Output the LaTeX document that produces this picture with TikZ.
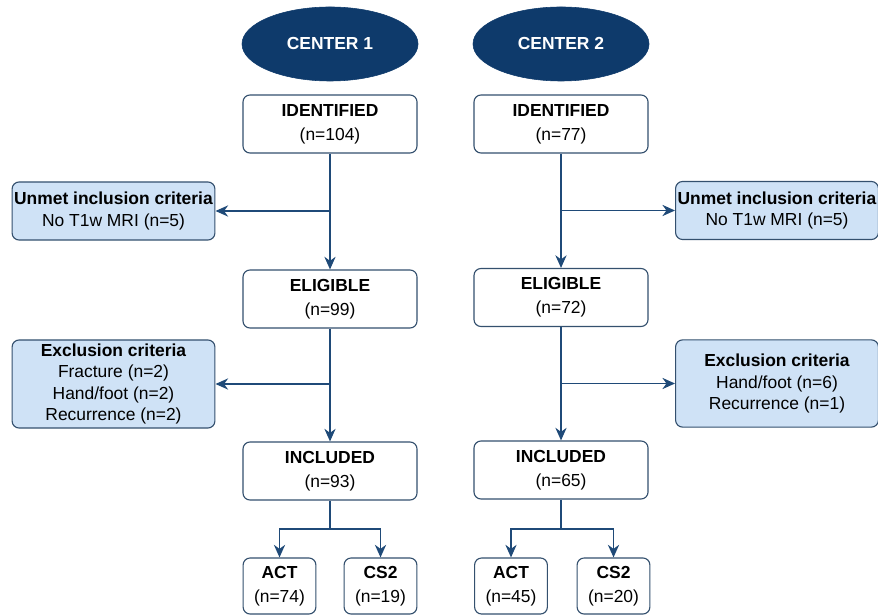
\documentclass[tikz,border=0pt]{standalone}
\usepackage{fontspec}
\setmainfont{Liberation Sans}
\usetikzlibrary{shapes.geometric,arrows.meta,positioning}

\definecolor{navy}{HTML}{0E3A6B}
\definecolor{linecol}{HTML}{1F4A78}
\definecolor{boxline}{HTML}{34506E}
\definecolor{paleblue}{HTML}{CFE2F6}

\tikzset{
	center/.style={ellipse, fill=navy, draw=navy, text=white,
		font=\fontsize{12.4}{15}\selectfont\bfseries,
		minimum width=4.4cm, minimum height=1.85cm, inner sep=0pt},
	stage/.style={rectangle, rounded corners=5pt, draw=boxline, line width=0.8pt, fill=white,
		minimum width=4.35cm, minimum height=1.45cm, align=center},
	crit/.style={rectangle, rounded corners=5pt, draw=boxline, line width=0.8pt, fill=paleblue,
		minimum width=5.07cm, minimum height=1.45cm, align=center, inner sep=1pt},
	arm/.style={rectangle, rounded corners=5pt, draw=boxline, line width=0.8pt, fill=white,
		minimum width=1.82cm, minimum height=1.4cm, align=center},
	arr/.style={draw=linecol, line width=1pt, -{Stealth[length=9pt,width=8pt]}},
	ln/.style={draw=linecol, line width=1pt}
}

\begin{document}
\begin{tikzpicture}[x=0.025cm, y=-0.025cm, font=\fontsize{12.4}{15}\selectfont]
	\useasboundingbox (0,0) rectangle (878,615);

	% center 1
	\node[center] (c1) at (330,44) {CENTER 1};
	\node[stage] (id1) at (330,124) {\textbf{IDENTIFIED}\\[2pt](n=104)};
	\node[crit] (un1) at (113.5,211) {\textbf{Unmet inclusion criteria}\\No T1w MRI (n=5)};
	\node[stage] (el1) at (330,299) {\textbf{ELIGIBLE}\\[2pt](n=99)};
	\node[crit, minimum height=2.2cm] (ex1) at (113.5,384) {\textbf{Exclusion criteria}\\Fracture (n=2)\\Hand/foot (n=2)\\Recurrence (n=2)};
	\node[stage] (in1) at (330,471) {\textbf{INCLUDED}\\[2pt](n=93)};
	\node[arm] (act1) at (279.5,586) {\textbf{ACT}\\[2pt](n=74)};
	\node[arm] (cs1) at (380.5,586) {\textbf{CS2}\\[2pt](n=19)};
	\coordinate (sp1) at (330,529);

	% center 2
	\node[center] (c2) at (561,44) {CENTER 2};
	\node[stage] (id2) at (561,124) {\textbf{IDENTIFIED}\\[2pt](n=77)};
	\node[crit] (un2) at (777,210.5) {\textbf{Unmet inclusion criteria}\\No T1w MRI (n=5)};
	\node[stage] (el2) at (561,297.5) {\textbf{ELIGIBLE}\\[2pt](n=72)};
	\node[crit, minimum height=2.18cm] (ex2) at (777,383.5) {\textbf{Exclusion criteria}\\Hand/foot (n=6)\\Recurrence (n=1)};
	\node[stage] (in2) at (561,470) {\textbf{INCLUDED}\\[2pt](n=65)};
	\node[arm] (act2) at (511,586) {\textbf{ACT}\\[2pt](n=45)};
	\node[arm] (cs2) at (613.5,586) {\textbf{CS2}\\[2pt](n=20)};
	\coordinate (sp2) at (561,529);

	\foreach \k in {1,2} {
		\draw[arr] (id\k) -- (el\k);
		\draw[arr] (id\k |- un\k) -- (un\k);
		\draw[arr] (el\k) -- (in\k);
		\draw[arr] (el\k |- ex\k) -- (ex\k);
		\draw[ln] (in\k) -- (sp\k);
		\draw[arr] (sp\k) -| (act\k);
		\draw[arr] (sp\k) -| (cs\k);
	}
\end{tikzpicture}
\end{document}
